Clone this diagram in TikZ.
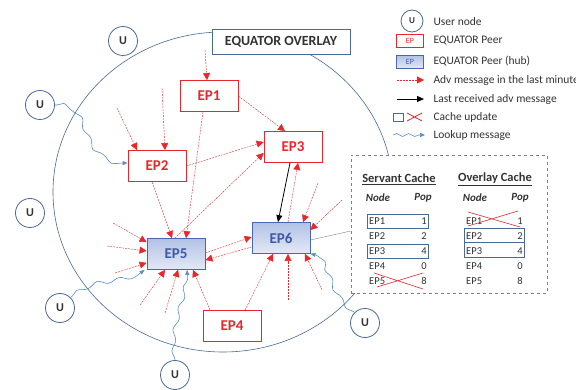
\documentclass[tikz,border=0pt]{standalone}
\usepackage{fontspec}
\setmainfont{Carlito}
\usetikzlibrary{arrows.meta,decorations.pathmorphing}

\definecolor{epred}{HTML}{E8262C}
\definecolor{steel}{HTML}{4A6A96}
\definecolor{hubline}{HTML}{4A66B0}
\definecolor{hubtext}{HTML}{3F5AA6}
\definecolor{hubtop}{HTML}{B2C1E6}
\definecolor{hubbot}{HTML}{E4E9F6}
\definecolor{lookupblue}{HTML}{5B8CC8}
\definecolor{txt}{HTML}{333333}

\begin{document}
\begin{tikzpicture}[x=1pt,y=-1pt,
    user/.style={circle, draw=steel, thick, fill=white, minimum size=29pt, inner sep=0pt,
        text=txt, font=\fontsize{12}{12}\selectfont\bfseries},
    peer/.style={rectangle, draw=epred, thick, fill=white, minimum width=58pt, minimum height=31pt,
        text=epred, font=\fontsize{15}{15}\selectfont\bfseries},
    hub/.style={rectangle, draw=hubline, thick, top color=hubtop, bottom color=hubbot,
        minimum width=58pt, minimum height=31pt, text=hubtext, font=\fontsize{15}{15}\selectfont\bfseries},
    adv/.style={epred, dash pattern=on 2pt off 1pt, -{Triangle[length=7pt,width=7pt]}},
    lastadv/.style={black, thick, -{Triangle[length=7pt,width=6pt]}},
    lookup/.style={lookupblue, semithick, -{Triangle[length=5pt,width=4pt]}, decorate,
        decoration={snake, amplitude=2pt, segment length=22pt, pre length=2pt, post length=6pt}},
    legtext/.style={anchor=west, text=txt, font=\fontsize{11.5}{12}\selectfont},
    celltext/.style={text=txt, font=\fontsize{10.5}{11}\selectfont, inner sep=0pt},
    cacheupd/.style={draw=steel, thick}]

    \useasboundingbox (0,0) rectangle (576,390);

    % the overlay
    \draw[steel, semithick] (223,192) ellipse [x radius=170pt, y radius=160pt];
    \node[draw=steel, thick, fill=white, minimum width=138pt, minimum height=25pt, text=txt,
        font=\fontsize{14}{14}\selectfont\bfseries] (overlay) at (281,42) {EQUATOR OVERLAY};

    % user nodes
    \node[user] (u1) at (123,41) {U};
    \node[user] (u2) at (40,105) {U};
    \node[user] (u3) at (30,213) {U};
    \node[user] (u4) at (60,308) {U};
    \node[user] (u5) at (175,375) {U};
    \node[user] (u6) at (365,323) {U};

    % peers and hubs
    \node[peer] (ep1) at (209,96) {EP1};
    \node[peer] (ep2) at (157,166) {EP2};
    \node[peer] (ep3) at (293,147) {EP3};
    \node[peer] (ep4) at (232,326) {EP4};
    \node[hub] (ep5) at (176,254) {EP5};
    \node[hub] (ep6) at (281,238) {EP6};

    % sources outside the picture
    \foreach \n/\x/\y in {a1/205/50, a2/117/108, a3/162/88, a4/113/223, a5/107/246, a6/115/273,
        a7/140/305, a8/165/313, a9/318/183, a10/342/200, a11/288/300, a12/322/290}
        \coordinate (\n) at (\x,\y);

    % adv messages between peers
    \draw[adv] (ep1.east) -- ([xshift=-8pt]ep3.north);
    \draw[adv] (ep2.east) -- ([yshift=5pt]ep3.west);
    \draw[adv] ([xshift=-5pt]ep2.south) -- ([xshift=-4pt]ep5.north);
    \draw[adv] ([xshift=-6pt]ep1.south) -- ([xshift=10pt]ep5.north);
    \draw[adv] ([xshift=-1pt]ep5.north) -- ([yshift=-6pt]ep3.west);
    \draw[adv] ([xshift=7pt]ep6.north) -- ([xshift=5pt]ep3.south);
    \draw[adv] ([yshift=1pt]ep5.east) -- ([yshift=1pt]ep6.west);
    \draw[adv] ([yshift=-9pt]ep6.west) -- ([yshift=-6pt]ep5.east);
    \draw[adv] ([xshift=-22pt]ep4.north) -- ([xshift=17pt]ep5.south);
    \draw[adv] ([xshift=13pt]ep4.north) -- ([xshift=-8pt]ep6.south);
    \draw[lastadv] ([xshift=-3pt]ep3.south) -- ([xshift=-3pt]ep6.north);

    % adv messages from outside
    \draw[adv] (a1) -- ([xshift=-2pt]ep1.north);
    \draw[adv] (a2) -- ([xshift=-20pt]ep2.north);
    \draw[adv] (a3) -- ([xshift=8pt]ep2.north);
    \draw[adv] (a4) -- ([yshift=-4pt]ep5.north west);
    \draw[adv] (a5) -- ([yshift=3pt]ep5.west);
    \draw[adv] (a6) -- ([yshift=7pt]ep5.south west);
    \draw[adv] (a7) -- ([xshift=-11pt]ep5.south);
    \draw[adv] (a8) -- ([xshift=2pt]ep5.south);
    \draw[adv] (a9) -- ([xshift=22pt]ep6.north);
    \draw[adv] (a10) -- ([yshift=8pt]ep6.east);
    \draw[adv] (a11) -- ([xshift=7pt]ep6.south);
    \draw[adv] (a12) -- ([xshift=24pt]ep6.south);

    % lookup messages
    \draw[lookup] (u2.east) .. controls (90,104) and (68,166) .. ([yshift=3pt]ep2.west);
    \draw[lookup] (u4.north east) .. controls (95,278) and (120,290) .. ([xshift=-2pt]ep5.south west);
    \draw[lookup] (u5.north) .. controls (170,330) and (190,300) .. ([xshift=11pt]ep5.south);
    \draw[lookup] (u6.north west) .. controls (330,295) and (335,255) .. (ep6.south east);

    % cache
    \node[draw=gray, thick, dashed, fill=white, minimum width=196pt, minimum height=138pt] (cache) at (449,224) {};
    \draw[gray] ([yshift=-2pt]ep6.east) -- ([yshift=-7pt]cache.west);
    \node[celltext, font=\fontsize{12.5}{13}\selectfont\bfseries] (sc) at (399,179) {\underline{Servant Cache}};
    \node[celltext, font=\fontsize{12.5}{13}\selectfont\bfseries] (oc) at (495,179) {\underline{Overlay Cache}};
    \node[celltext, font=\fontsize{11}{12}\selectfont\bfseries\itshape] (sn) at (378,198) {Node};
    \node[celltext, font=\fontsize{11}{12}\selectfont\bfseries\itshape] (sp) at (423,198) {Pop};
    \node[celltext, font=\fontsize{11}{12}\selectfont\bfseries\itshape] (on) at (475,198) {Node};
    \node[celltext, font=\fontsize{11}{12}\selectfont\bfseries\itshape] (op) at (520,198) {Pop};
    \foreach \n/\p [count=\i] in {EP1/1, EP2/2, EP3/4, EP4/0, EP5/8} {
        \node[celltext, anchor=west] (sv\i) at (369,{206+15*\i}) {\n};
        \node[celltext] (svp\i) at (424,{206+15*\i}) {\p};
        \node[celltext, anchor=west] (ov\i) at (466,{206+15*\i}) {\n};
        \node[celltext] (ovp\i) at (520,{206+15*\i}) {\p};
    }
    \draw[cacheupd] (367,214) rectangle (428,228);
    \draw[cacheupd] (367,244) rectangle (428,258);
    \draw[cacheupd] (464,228) rectangle (524,242);
    \draw[cacheupd] (464,242) rectangle (524,257);
    \draw[epred, semithick] (374,273) -- (423,289) (377,287) -- (423,273);
    \draw[epred, semithick] (468,212) -- (520,227) (468,226) -- (518,211);

    % legend
    \node[user, minimum size=22pt, font=\fontsize{9}{9}\selectfont\bfseries] (lu) at (412,21) {U};
    \node[peer, minimum width=27pt, minimum height=13pt, font=\fontsize{8}{8}\selectfont] (lp) at (410,41) {EP};
    \node[hub, minimum width=27pt, minimum height=13pt, font=\fontsize{8}{8}\selectfont] (lh) at (410,62) {EP};
    \coordinate (la1) at (397,80);  \coordinate (la2) at (424,80);
    \coordinate (lb1) at (397,99);  \coordinate (lb2) at (424,99);
    \coordinate (lc1) at (393,135); \coordinate (lc2) at (425,135);
    \draw[adv] (la1) -- (la2);
    \draw[lastadv] (lb1) -- (lb2);
    \draw[cacheupd] (393,113) rectangle (403,121);
    \draw[epred, thick] (407,113) -- (422,121) (407,121) -- (422,113);
    \draw[lookup, decoration={snake, amplitude=1.5pt, segment length=12pt, pre length=0pt, post length=5pt}] (lc1) -- (lc2);
    \foreach \t/\y [count=\i] in {User node/22, EQUATOR Peer/41, EQUATOR Peer  (hub)/61,
        Adv message in the last minute/80, Last received adv message/99, Cache update/117, Lookup message/135}
        \node[legtext] (lt\i) at (430,\y) {\t};
\end{tikzpicture}
\end{document}
